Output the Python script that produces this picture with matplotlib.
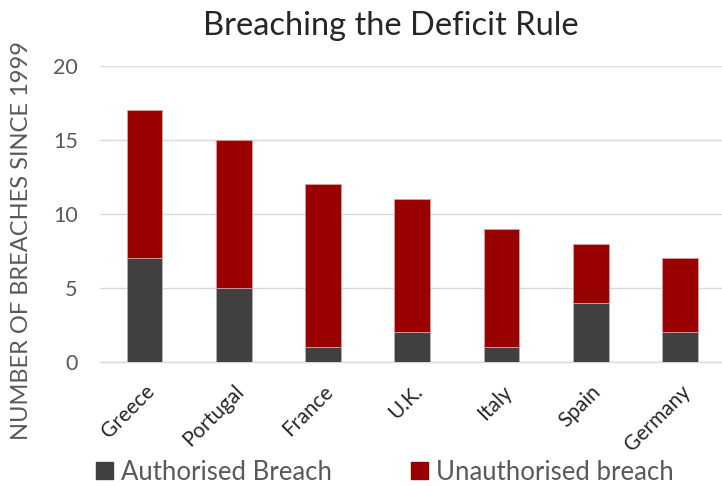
import matplotlib
matplotlib.use("Agg")
import matplotlib.pyplot as plt
from matplotlib.patches import Patch

plt.rcParams['font.family'] = ['Lato', 'DejaVu Sans']

countries = ["Greece", "Portugal", "France", "U.K.", "Italy", "Spain", "Germany"]
authorised = [7, 5, 1, 2, 1, 4, 2]
unauthorised = [10, 10, 11, 9, 8, 4, 5]
yticks = [0, 5, 10, 15, 20]

c_auth = "#404040"
c_unauth = "#990000"
txt = "#595959"

fig = plt.figure(figsize=(7.22, 4.86), dpi=100)
ax = fig.add_axes([100/722, 124/486, 622/722, 296/486])

x = list(range(len(countries)))
ax.bar(x, authorised, width=0.4, color=c_auth, edgecolor="#b0b0b0", linewidth=0.6, zorder=3)
ax.bar(x, unauthorised, width=0.4, bottom=authorised, color=c_unauth, edgecolor="#d9a0a0", linewidth=0.6, zorder=3)

ax.set_xlim(-0.5, 6.47)
ax.set_ylim(0, 20)
ax.set_yticks(yticks)
ax.set_yticklabels([str(v) for v in yticks], fontsize=15.5, color=txt)
ax.set_xticks(x)
ax.set_xticklabels(countries, rotation=45, ha="right", rotation_mode="anchor", fontsize=15, color="#262626")
ax.tick_params(axis="x", length=0, pad=14)
ax.tick_params(axis="y", length=0, pad=16)
ax.grid(axis="y", color="#d9d9d9", linewidth=1, zorder=0)
for s in ["top", "right", "left"]:
    ax.spines[s].set_visible(False)
ax.spines["bottom"].set_color("#d9d9d9")
ax.spines["bottom"].set_linewidth(1)

fig.text(22/722, 1 - 240/486, "NUMBER OF BREACHES SINCE 1999", rotation=90, fontsize=17,
         color=txt, ha="center", va="center")
fig.text(391/722, 1 - 26/486, "Breaching the Deficit Rule", fontsize=23.5, color="#262626",
         ha="center", va="center")

handles = [Patch(color=c_auth, label="Authorised Breach"), Patch(color=c_unauth, label="Unauthorised breach")]
fig.legend(handles=handles, loc="center left", bbox_to_anchor=(96/722, 1 - 472/486), ncol=2,
           frameon=False, fontsize=18.5, labelcolor=txt, handlelength=0.66, handleheight=0.66,
           handletextpad=0.3, columnspacing=3.1, borderpad=0, borderaxespad=0)

fig.savefig("out.png", dpi=100)
